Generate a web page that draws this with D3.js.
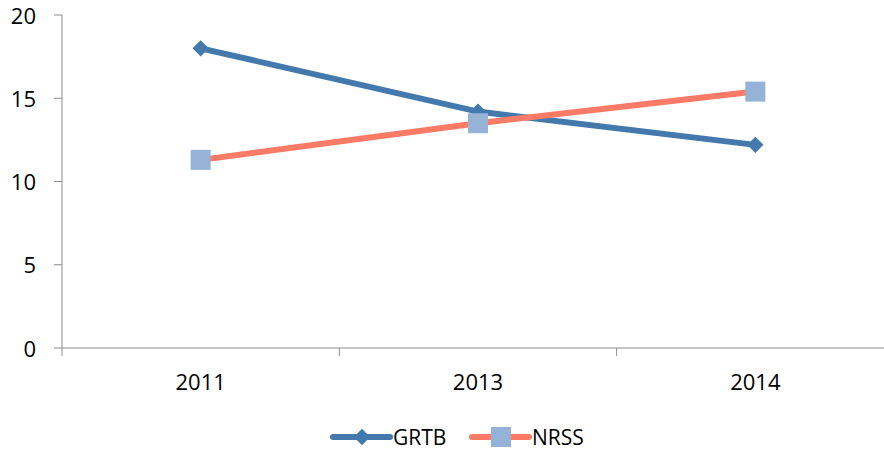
<!DOCTYPE html>
<html>
<head>
<meta charset="utf-8">
<script src="https://cdn.jsdelivr.net/npm/d3@7"></script>
<style>
  body { margin: 0; background: #fff; }
  text { font-family: "Open Sans", "Liberation Sans", sans-serif; fill: #000; }
</style>
</head>
<body>
<div id="wrapper"></div>
<script>
const years = ["2011", "2013", "2014"]
const grtb = [18.0, 14.2, 12.2]
const nrss = [11.3, 13.5, 15.4]
const yTicks = [0, 5, 10, 15, 20]
const seriesNames = ["GRTB", "NRSS"]

const width = 884, height = 452
const margin = {top: 15, right: -10, bottom: 104, left: 62}
const boundWidth = width - margin.left - margin.right
const boundHeight = height - margin.top - margin.bottom

const blue = "#4479ad", red = "#fb7b66", square = "#95b3d7", axisColor = "#8c8c8c"

const svg = d3.select("#wrapper").append("svg")
  .attr("width", width).attr("height", height)
const bounds = svg.append("g")
  .attr("transform", `translate(${margin.left},${margin.top})`)

const xScale = d3.scaleBand().domain(years).range([0, boundWidth])
const yScale = d3.scaleLinear().domain([0, 20]).range([boundHeight, 0])
const cx = d => xScale(d) + xScale.bandwidth() / 2

// y axis
bounds.append("line")
  .attr("x1", 0).attr("x2", 0).attr("y1", 0).attr("y2", boundHeight + 8)
  .attr("stroke", axisColor).attr("stroke-width", 1)
bounds.selectAll(".ytick").data(yTicks).enter().append("line")
  .attr("x1", -8).attr("x2", 0)
  .attr("y1", d => yScale(d)).attr("y2", d => yScale(d))
  .attr("stroke", axisColor)
bounds.selectAll(".ylab").data(yTicks).enter().append("text")
  .attr("x", -26).attr("y", d => yScale(d) + 8.5)
  .attr("text-anchor", "end").style("font-size", "22px")
  .text(d => d)

// x axis
bounds.append("line")
  .attr("x1", 0).attr("x2", boundWidth).attr("y1", boundHeight).attr("y2", boundHeight)
  .attr("stroke", axisColor)
bounds.selectAll(".xtick").data(years.slice(1)).enter().append("line")
  .attr("x1", d => xScale(d)).attr("x2", d => xScale(d))
  .attr("y1", boundHeight).attr("y2", boundHeight + 8)
  .attr("stroke", axisColor)
bounds.selectAll(".xlab").data(years).enter().append("text")
  .attr("x", cx).attr("y", boundHeight + 42)
  .attr("text-anchor", "middle").style("font-size", "22px")
  .text(d => d)

const line = d3.line().x(d => cx(d.year)).y(d => yScale(d.v))
const grtbData = years.map((y, i) => ({year: y, v: grtb[i]}))
const nrssData = years.map((y, i) => ({year: y, v: nrss[i]}))

const diamond = d3.symbol().type(d3.symbolDiamond2).size(170)

bounds.append("path").datum(grtbData).attr("d", line)
  .attr("fill", "none").attr("stroke", blue).attr("stroke-width", 6)
bounds.append("path").datum(nrssData).attr("d", line)
  .attr("fill", "none").attr("stroke", red).attr("stroke-width", 6)

bounds.selectAll(".dia").data(grtbData).enter().append("path")
  .attr("d", diamond)
  .attr("transform", d => `translate(${cx(d.year)},${yScale(d.v)})`)
  .attr("fill", blue)
bounds.selectAll(".sq").data(nrssData).enter().append("rect")
  .attr("x", d => cx(d.year) - 10).attr("y", d => yScale(d.v) - 10)
  .attr("width", 20).attr("height", 20)
  .attr("fill", square)

// legend
const legend = svg.append("g").attr("transform", "translate(333,437)")
const leg = [{name: seriesNames[0], x: 0, color: blue}, {name: seriesNames[1], x: 139, color: red}]
leg.forEach((l, i) => {
  const g = legend.append("g").attr("transform", `translate(${l.x},0)`)
  g.append("line").attr("x1", 0).attr("x2", 57).attr("y1", 0).attr("y2", 0)
    .attr("stroke", l.color).attr("stroke-width", 6).attr("stroke-linecap", "round")
  if (i == 0) {
    g.append("path").attr("d", diamond).attr("transform", "translate(29,0)").attr("fill", blue)
  } else {
    g.append("rect").attr("x", 19).attr("y", -10).attr("width", 20).attr("height", 20).attr("fill", square)
  }
  g.append("text").attr("x", 60).attr("y", 0).attr("dy", "0.36em")
    .style("font-size", "21px").text(l.name)
})
</script>
</body>
</html>
